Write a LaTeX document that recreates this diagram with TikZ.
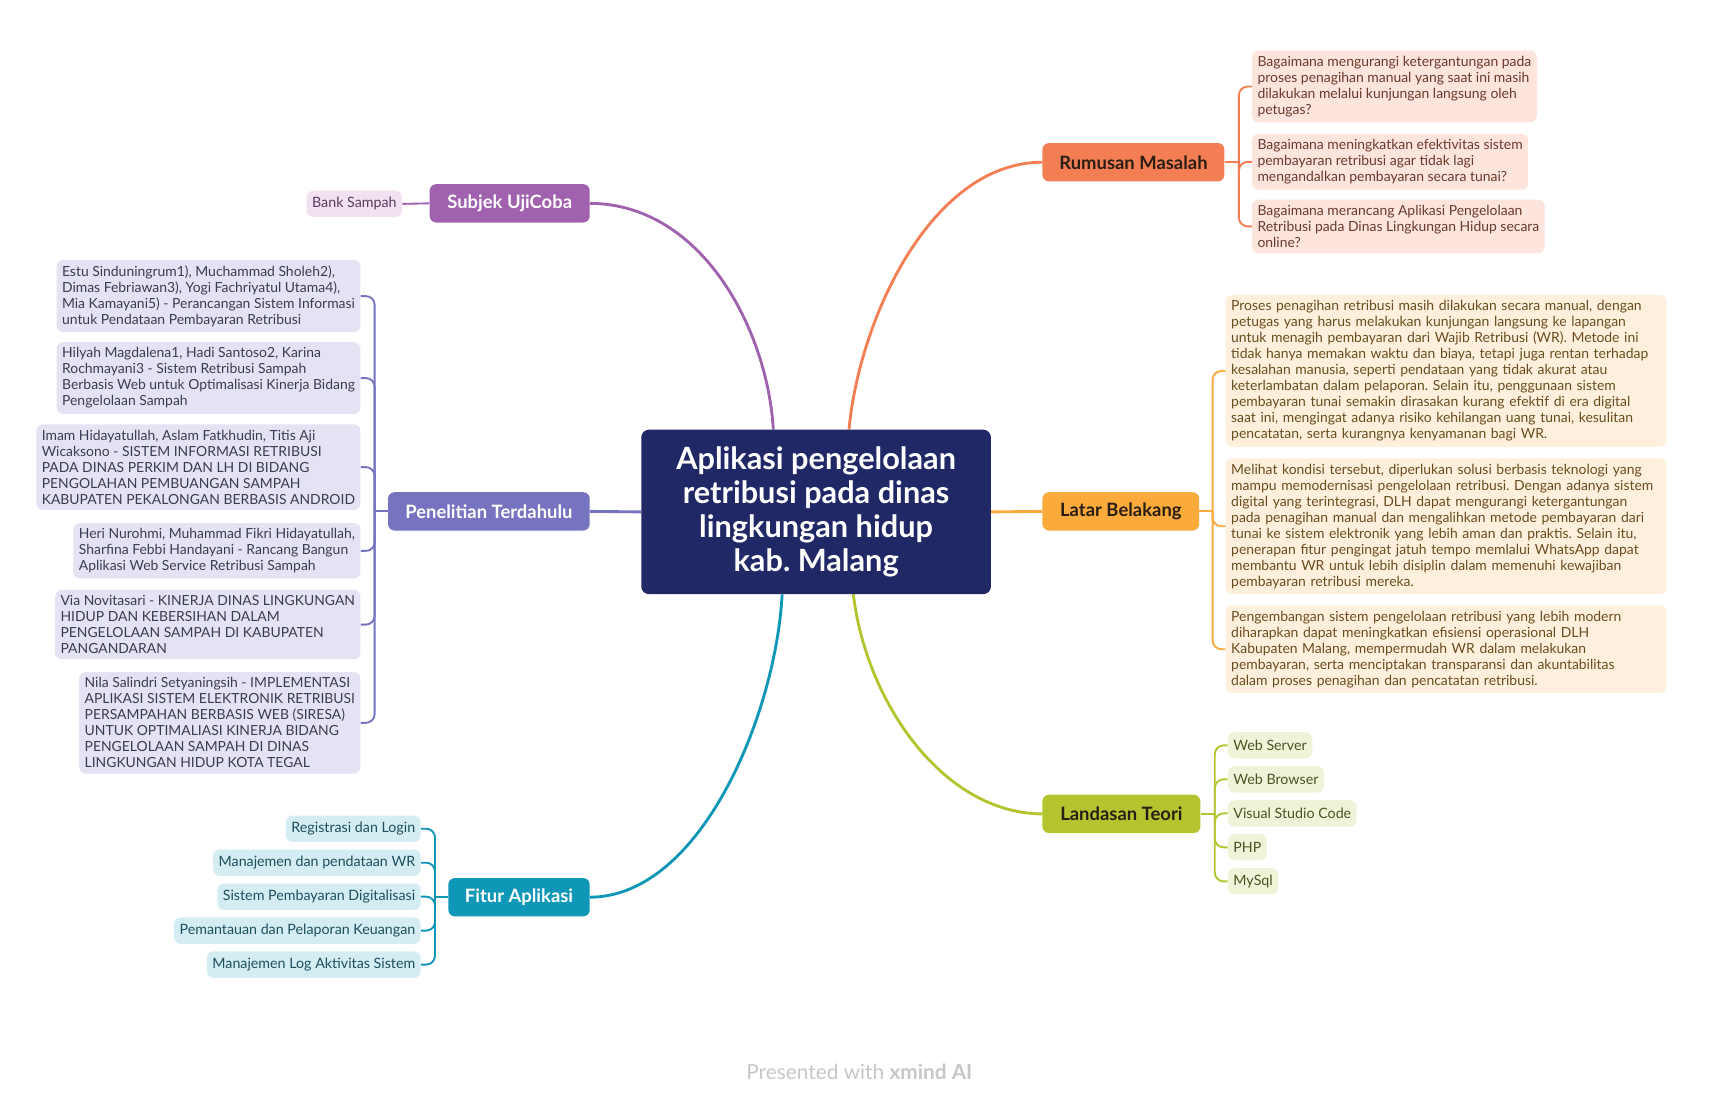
\documentclass[tikz,border=0pt]{standalone}
\usepackage{fontspec}
\setmainfont{Lato}
\usetikzlibrary{backgrounds,calc}
\pgfdeclarelayer{bottom}
\pgfsetlayers{bottom,background,main}
\definecolor{cnavy}{HTML}{212866}
\definecolor{csub}{HTML}{A061AE}
\definecolor{cpen}{HTML}{7674C0}
\definecolor{cfit}{HTML}{0E97B7}
\definecolor{crum}{HTML}{F47E54}
\definecolor{clat}{HTML}{FBAA3C}
\definecolor{clan}{HTML}{B4C42F}
\definecolor{frum}{HTML}{FDE4DC}
\definecolor{flat}{HTML}{FEF0DC}
\definecolor{flan}{HTML}{F0F3D8}
\definecolor{fsub}{HTML}{F1E1F1}
\definecolor{fpen}{HTML}{E4E3F3}
\definecolor{ffit}{HTML}{D3EDF3}
\definecolor{trum}{HTML}{6A3A2C}
\definecolor{tlat}{HTML}{6A4C1E}
\definecolor{tlan}{HTML}{4D5222}
\definecolor{tsub}{HTML}{5A3C5F}
\definecolor{tpen}{HTML}{3C3B55}
\definecolor{tfit}{HTML}{1E4F5E}
\definecolor{tdark}{HTML}{2A1E14}
\frenchspacing
\begin{document}
\begin{tikzpicture}[x=1pt,y=-1pt,
  centre/.style={fill=cnavy, text=white, rounded corners=7pt, minimum width=319pt, minimum height=150pt, align=center, inner sep=0pt, font=\fontsize{28}{31}\selectfont\bfseries},
  mainbox/.style={rounded corners=6pt, minimum height=35pt, inner sep=0pt, font=\fontsize{16.8}{20}\selectfont\bfseries},
  detail/.style={rounded corners=6pt, align=left, inner xsep=5pt, inner ysep=5pt, font=\fontsize{12.7}{14.6}\selectfont},
  small/.style={rounded corners=6pt, inner xsep=5pt, inner ysep=0pt, minimum height=24pt, font=\fontsize{13}{14}\selectfont},
  branch/.style={line width=2.6pt},
  brace/.style={line width=1.7pt, rounded corners=8pt},
]
\begin{pgfonlayer}{bottom}
\fill[white] (0,0) rectangle (1560,999);
\end{pgfonlayer}
\useasboundingbox (0,0) rectangle (1560,999);

% central topic
\node[centre] (c) at (744.5,467) {Aplikasi pengelolaan\\retribusi pada dinas\\lingkungan hidup\\kab. Malang};

% main topics
\node[mainbox, fill=csub, text=white, minimum width=146pt] (sub) at (465,185.5) {Subjek UjiCoba};
\node[mainbox, fill=cpen, text=white, minimum width=184pt] (pen) at (446,466.5) {Penelitian Terdahulu};
\node[mainbox, fill=cfit, text=white, minimum width=129pt] (fit) at (473.5,818.5) {Fitur Aplikasi};
\node[mainbox, fill=crum, text=tdark, minimum width=166pt] (rum) at (1034,148) {Rumusan Masalah};
\node[mainbox, fill=clat, text=tdark, minimum width=143pt] (lat) at (1022.5,466.5) {Latar Belakang};
\node[mainbox, fill=clan, text=tdark, minimum width=144pt] (lan) at (1023,742.5) {Landasan Teori};

% Rumusan Masalah children
\node[detail, fill=frum, text=trum, anchor=north west] (r1) at (1142,46) {Bagaimana mengurangi ketergantungan pada\\proses penagihan manual yang saat ini masih\\dilakukan melalui kunjungan langsung oleh\\petugas?};
\node[detail, fill=frum, text=trum, anchor=north west] (r2) at (1142,122) {Bagaimana meningkatkan efektivitas sistem\\pembayaran retribusi agar tidak lagi\\mengandalkan pembayaran secara tunai?};
\node[detail, fill=frum, text=trum, anchor=north west] (r3) at (1142,182) {Bagaimana merancang Aplikasi Pengelolaan\\Retribusi pada Dinas Lingkungan Hidup secara\\online?};

% Latar Belakang children
\node[detail, fill=flat, text=tlat, text width=392pt, anchor=north west] (l1) at (1118,269) {Proses penagihan retribusi masih dilakukan secara manual, dengan\\petugas yang harus melakukan kunjungan langsung ke lapangan\\untuk menagih pembayaran dari Wajib Retribusi (WR). Metode ini\\tidak hanya memakan waktu dan biaya, tetapi juga rentan terhadap\\kesalahan manusia, seperti pendataan yang tidak akurat atau\\keterlambatan dalam pelaporan. Selain itu, penggunaan sistem\\pembayaran tunai semakin dirasakan kurang efektif di era digital\\saat ini, mengingat adanya risiko kehilangan uang tunai, kesulitan\\pencatatan, serta kurangnya kenyamanan bagi WR.};
\node[detail, fill=flat, text=tlat, text width=392pt, anchor=north west] (l2) at (1118,418) {Melihat kondisi tersebut, diperlukan solusi berbasis teknologi yang\\mampu memodernisasi pengelolaan retribusi. Dengan adanya sistem\\digital yang terintegrasi, DLH dapat mengurangi ketergantungan\\pada penagihan manual dan mengalihkan metode pembayaran dari\\tunai ke sistem elektronik yang lebih aman dan praktis. Selain itu,\\penerapan fitur pengingat jatuh tempo memlalui WhatsApp dapat\\membantu WR untuk lebih disiplin dalam memenuhi kewajiban\\pembayaran retribusi mereka.};
\node[detail, fill=flat, text=tlat, text width=392pt, anchor=north west] (l3) at (1118,552) {Pengembangan sistem pengelolaan retribusi yang lebih modern\\diharapkan dapat meningkatkan efisiensi operasional DLH\\Kabupaten Malang, mempermudah WR dalam melakukan\\pembayaran, serta menciptakan transparansi dan akuntabilitas\\dalam proses penagihan dan pencatatan retribusi.};

% Landasan Teori children
\node[small, fill=flan, text=tlan, anchor=west] (t1) at (1120,680) {Web Server};
\node[small, fill=flan, text=tlan, anchor=west] (t2) at (1120,711) {Web Browser};
\node[small, fill=flan, text=tlan, anchor=west] (t3) at (1120,742) {Visual Studio Code};
\node[small, fill=flan, text=tlan, anchor=west] (t4) at (1120,773) {PHP};
\node[small, fill=flan, text=tlan, anchor=west] (t5) at (1120,804) {MySql};

% Subjek UjiCoba child
\node[small, fill=fsub, text=tsub, anchor=east] (s1) at (367,186) {Bank Sampah};

% Penelitian Terdahulu children
\node[detail, fill=fpen, text=tpen, anchor=north east] (p1) at (329,237) {Estu Sinduningrum1), Muchammad Sholeh2),\\Dimas Febriawan3), Yogi Fachriyatul Utama4),\\Mia Kamayani5) - Perancangan Sistem Informasi\\untuk Pendataan Pembayaran Retribusi};
\node[detail, fill=fpen, text=tpen, anchor=north east] (p2) at (329,312) {Hilyah Magdalena1, Hadi Santoso2, Karina\\Rochmayani3 - Sistem Retribusi Sampah\\Berbasis Web untuk Optimalisasi Kinerja Bidang\\Pengelolaan Sampah};
\node[detail, fill=fpen, text=tpen, anchor=north east] (p3) at (329,387) {Imam Hidayatullah, Aslam Fatkhudin, Titis Aji\\Wicaksono - SISTEM INFORMASI RETRIBUSI\\PADA DINAS PERKIM DAN LH DI BIDANG\\PENGOLAHAN PEMBUANGAN SAMPAH\\KABUPATEN PEKALONGAN BERBASIS ANDROID};
\node[detail, fill=fpen, text=tpen, anchor=north east] (p4) at (329,477) {Heri Nurohmi, Muhammad Fikri Hidayatullah,\\Sharfina Febbi Handayani - Rancang Bangun\\Aplikasi Web Service Retribusi Sampah};
\node[detail, fill=fpen, text=tpen, anchor=north east] (p5) at (329,538) {Via Novitasari - KINERJA DINAS LINGKUNGAN\\HIDUP DAN KEBERSIHAN DALAM\\PENGELOLAAN SAMPAH DI KABUPATEN\\PANGANDARAN};
\node[detail, fill=fpen, text=tpen, anchor=north east] (p6) at (329,613) {Nila Salindri Setyaningsih - IMPLEMENTASI\\APLIKASI SISTEM ELEKTRONIK RETRIBUSI\\PERSAMPAHAN BERBASIS WEB (SIRESA)\\UNTUK OPTIMALIASI KINERJA BIDANG\\PENGELOLAAN SAMPAH DI DINAS\\LINGKUNGAN HIDUP KOTA TEGAL};

% Fitur Aplikasi children
\node[small, fill=ffit, text=tfit, anchor=east] (f1) at (384,756) {Registrasi dan Login};
\node[small, fill=ffit, text=tfit, anchor=east] (f2) at (384,787) {Manajemen dan pendataan WR};
\node[small, fill=ffit, text=tfit, anchor=east] (f3) at (384,818) {Sistem Pembayaran Digitalisasi};
\node[small, fill=ffit, text=tfit, anchor=east] (f4) at (384,849) {Pemantauan dan Pelaporan Keuangan};
\node[small, fill=ffit, text=tfit, anchor=east] (f5) at (384,880) {Manajemen Log Aktivitas Sistem};

% footer
\node[text=black!22, font=\fontsize{19}{22}\selectfont] (foot) at (784,978) {Presented with \textbf{xmind AI}};

% bracket junctions
\coordinate (rj) at ($(rum.east)+(13,0)$);
\coordinate (lj) at ($(lat.east)+(12,0)$);
\coordinate (tj) at ($(lan.east)+(13,0)$);
\coordinate (pj) at ($(pen.west)+(-12,0)$);
\coordinate (fj) at ($(fit.west)+(-12,0)$);

\begin{pgfonlayer}{background}
% central connectors
\draw[branch, csub] (sub.east) .. controls (640,186) and (700,300) .. ($(c.north)+(-39,0)$);
\draw[branch, crum] (rum.west) .. controls (850,148) and (784,290) .. ($(c.north)+(30,0)$);
\draw[branch, cfit] (fit.east) .. controls (640,818) and (708,650) .. ($(c.south)+(-31,0)$);
\draw[branch, clan] (lan.west) .. controls (860,742) and (790,640) .. ($(c.south)+(34,0)$);
\draw[branch, cpen] (c.west) -- (pen.east);
\draw[branch, clat] (c.east) -- (lat.west);
% brackets
\draw[brace, crum] (rum.east) -- (rj);
\foreach \k in {r1,r2,r3} \draw[brace, crum] (rj) |- (\k.west);
\draw[brace, clat] (lat.east) -- (lj);
\foreach \k in {l1,l2,l3} \draw[brace, clat] (lj) |- (\k.west);
\draw[brace, clan] (lan.east) -- (tj);
\foreach \k in {t1,t2,t3,t4,t5} \draw[brace, clan] (tj) |- (\k.west);
\draw[brace, csub] (sub.west) -- (s1.east);
\draw[brace, cpen] (pen.west) -- (pj);
\foreach \k in {p1,p2,p3,p4,p5,p6} \draw[brace, cpen] (pj) |- (\k.east);
\draw[brace, cfit] (fit.west) -- (fj);
\foreach \k in {f1,f2,f3,f4,f5} \draw[brace, cfit] (fj) |- (\k.east);
\end{pgfonlayer}
\end{tikzpicture}
\end{document}
